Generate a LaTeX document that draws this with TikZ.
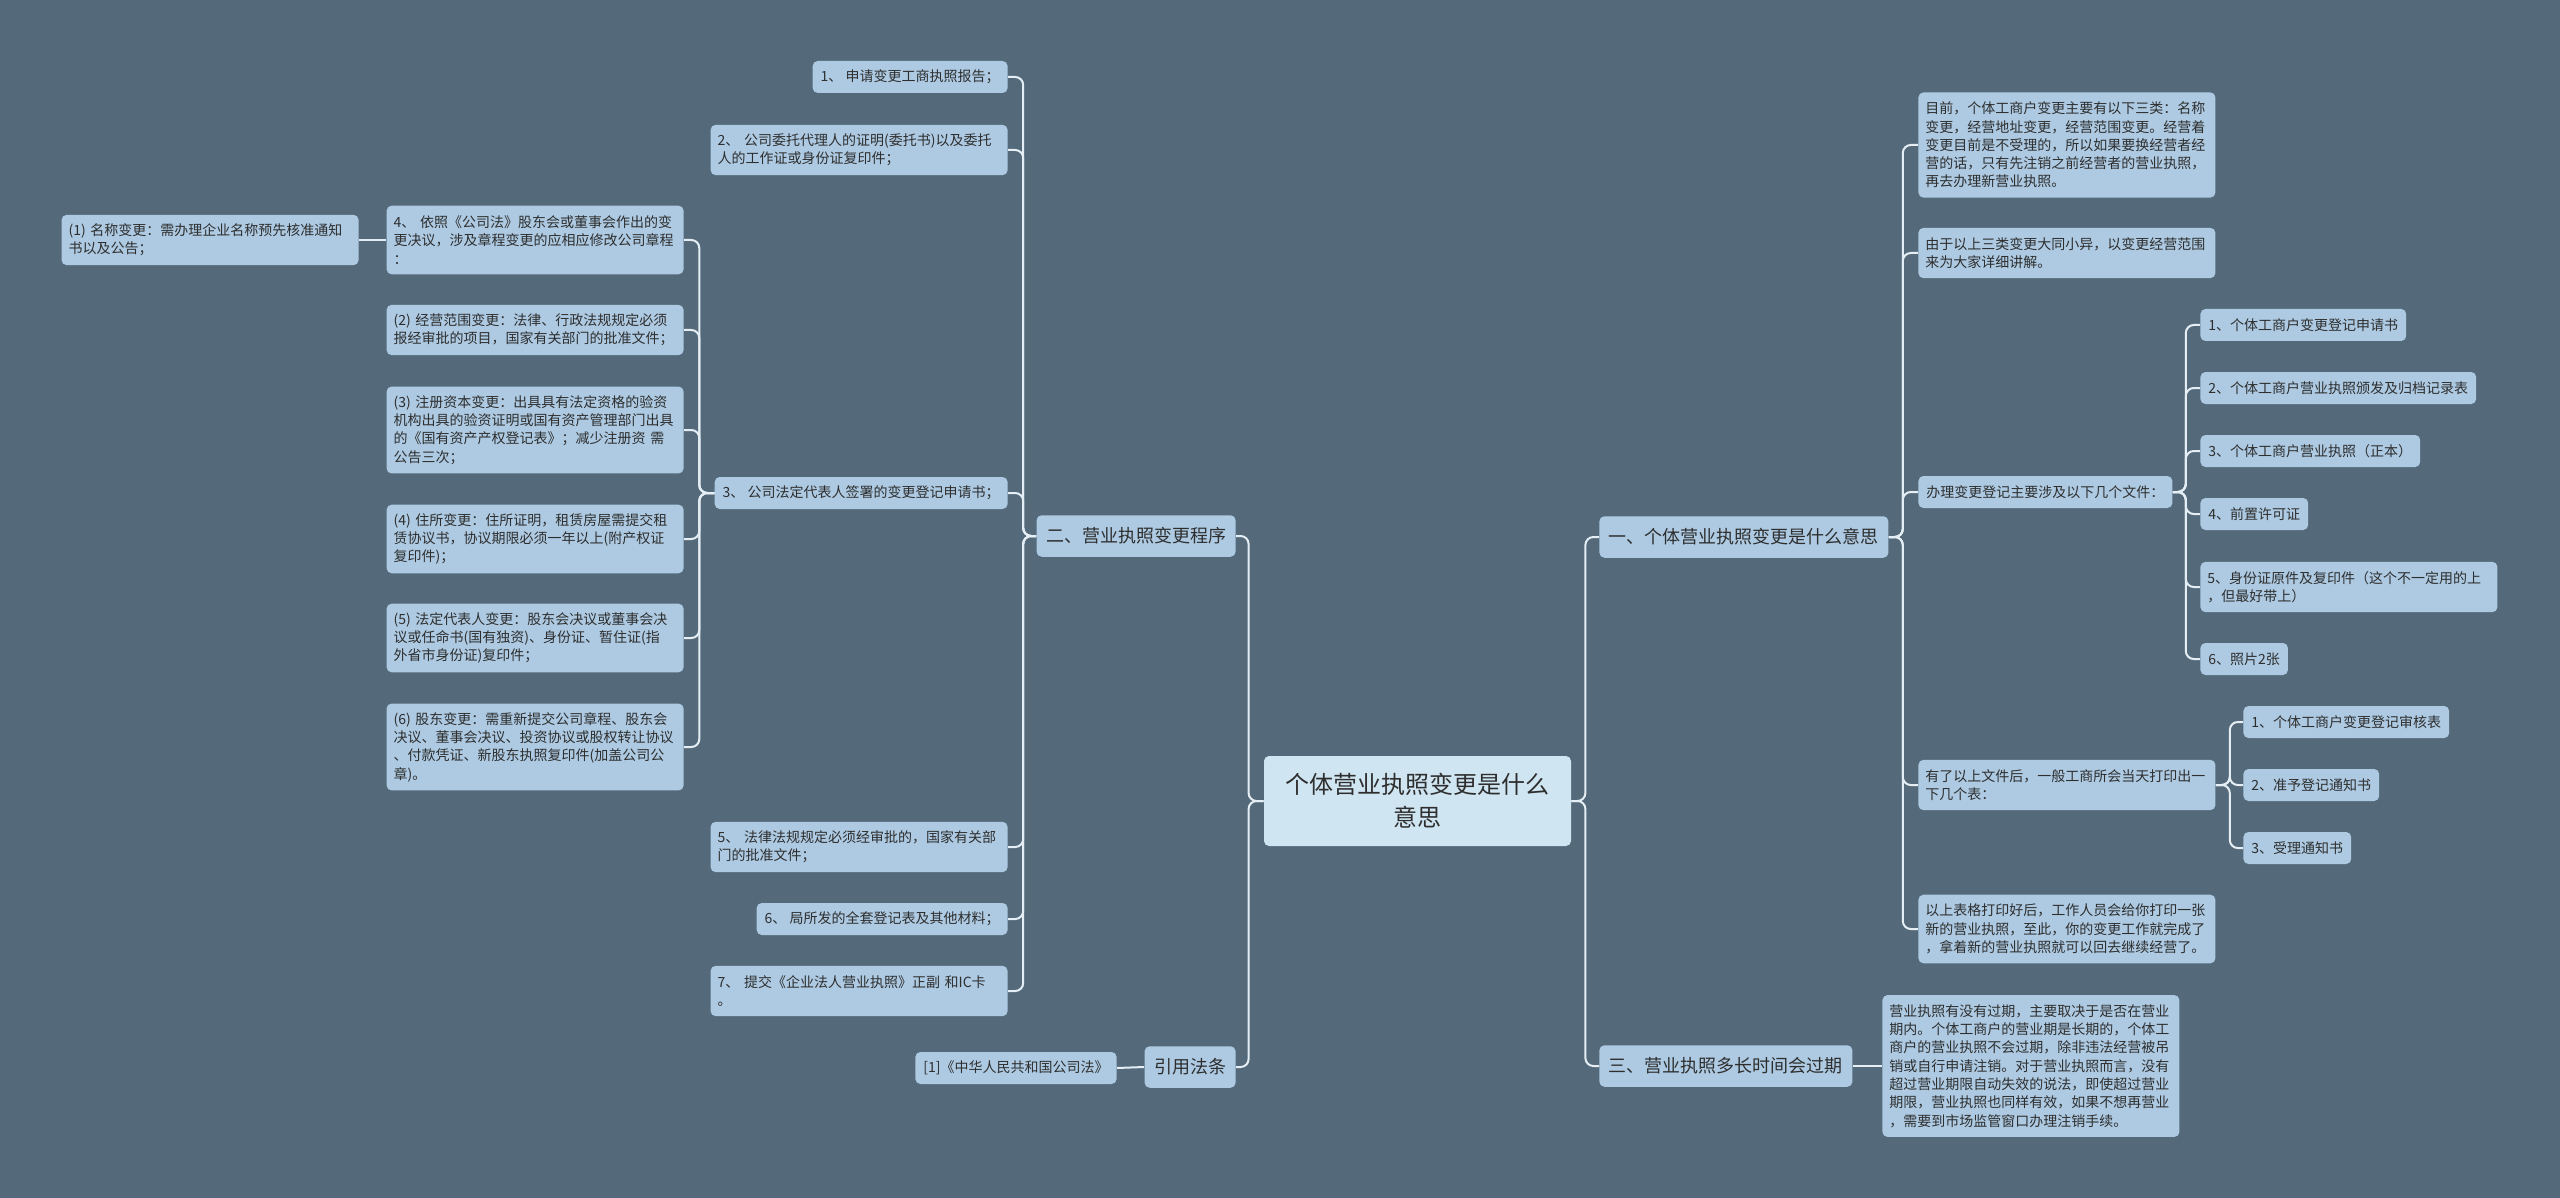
\documentclass[tikz,border=0pt]{standalone}
\usepackage{fontspec}
\setmainfont{Noto Sans CJK SC}
\definecolor{bgc}{HTML}{546A7A}
\definecolor{leafc}{HTML}{ADCAE2}
\definecolor{rootc}{HTML}{D0E5F2}
\definecolor{linec}{HTML}{E4EEF4}
\definecolor{txtc}{HTML}{2E2E2E}
\tikzset{
  base/.style={rectangle, rounded corners=2.5pt, fill=leafc, text=txtc, align=left, inner xsep=4pt, inner ysep=1pt},
  leaf/.style={base, font=\fontsize{7pt}{9.15pt}\selectfont},
  wide/.style={inner xsep=3.5pt, text width=141.5pt},
  lnA/.style={minimum height=16pt},
  lnB/.style={wide, minimum height=25.15pt},
  lnC/.style={wide, minimum height=34.3pt},
  lnD/.style={wide, minimum height=43.45pt},
  lnE/.style={wide, minimum height=52.6pt},
  lnG/.style={wide, minimum height=70.9pt},
  topic/.style={base, font=\fontsize{9pt}{11pt}\selectfont, minimum height=20.75pt, inner xsep=4.75pt},
  rootn/.style={base, fill=rootc, align=center, font=\fontsize{12pt}{16.5pt}\selectfont, minimum width=153.5pt, minimum height=45pt},
  conn/.style={draw=linec, line width=1pt, rounded corners=4pt},
}
\begin{document}
\begin{tikzpicture}[x=0.5pt,y=-0.5pt]
\path[use as bounding box, fill=bgc] (0,0) rectangle (2560,1198);

% root
\node[rootn] (root) at (1417.5,801) {个体营业执照变更是什么\\意思};

% left side
\node[topic, anchor=east] (n2) at (1236,536) {二、营业执照变更程序};
\node[topic, anchor=east] (cite) at (1236,1067) {引用法条};
\node[leaf, lnA, anchor=east] (law) at (1117,1068) {[1]《中华人民共和国公司法》};

\node[leaf, lnA, anchor=east] (a1) at (1008,77) {1、 申请变更工商执照报告；};
\node[leaf, lnB, anchor=east] (a2) at (1008,150) {2、 公司委托代理人的证明(委托书)以及委托\\人的工作证或身份证复印件；};
\node[leaf, lnA, anchor=east] (a3) at (1008,493) {3、 公司法定代表人签署的变更登记申请书；};
\node[leaf, lnB, anchor=east] (a5) at (1008,847) {5、 法律法规规定必须经审批的，国家有关部\\门的批准文件；};
\node[leaf, lnA, anchor=east] (a6) at (1008,919) {6、 局所发的全套登记表及其他材料；};
\node[leaf, lnB, anchor=east] (a7) at (1008,991) {7、 提交《企业法人营业执照》正副 和IC卡\\。};

\node[leaf, lnC, anchor=east] (b4) at (684,240) {4、 依照《公司法》股东会或董事会作出的变\\更决议，涉及章程变更的应相应修改公司章程\\：};
\node[leaf, lnB, anchor=east] (b1) at (359,240) {(1) 名称变更：需办理企业名称预先核准通知\\书以及公告；};
\node[leaf, lnB, anchor=east] (b2) at (684,330) {(2) 经营范围变更：法律、行政法规规定必须\\报经审批的项目，国家有关部门的批准文件；};
\node[leaf, lnD, anchor=east] (b3) at (684,430) {(3) 注册资本变更：出具具有法定资格的验资\\机构出具的验资证明或国有资产管理部门出具\\的《国有资产产权登记表》；减少注册资 需\\公告三次；};
\node[leaf, lnC, anchor=east] (bz) at (684,539) {(4) 住所变更：住所证明，租赁房屋需提交租\\赁协议书，协议期限必须一年以上(附产权证\\复印件)；};
\node[leaf, lnC, anchor=east] (b5) at (684,638) {(5) 法定代表人变更：股东会决议或董事会决\\议或任命书(国有独资)、身份证、暂住证(指\\外省市身份证)复印件；};
\node[leaf, lnD, anchor=east] (b6) at (684,747) {(6) 股东变更：需重新提交公司章程、股东会\\决议、董事会决议、投资协议或股权转让协议\\、付款凭证、新股东执照复印件(加盖公司公\\章)。};

% right side
\node[topic, anchor=west] (n1) at (1599,537) {一、个体营业执照变更是什么意思};
\node[topic, anchor=west] (n3) at (1599,1066) {三、营业执照多长时间会过期};
\node[leaf, lnG, anchor=west] (c3) at (1882,1066) {营业执照有没有过期，主要取决于是否在营业\\期内。个体工商户的营业期是长期的，个体工\\商户的营业执照不会过期，除非违法经营被吊\\销或自行申请注销。对于营业执照而言，没有\\超过营业期限自动失效的说法，即使超过营业\\期限，营业执照也同样有效，如果不想再营业\\，需要到市场监管窗口办理注销手续。};

\node[leaf, lnE, anchor=west] (r1) at (1918,145) {目前，个体工商户变更主要有以下三类：名称\\变更，经营地址变更，经营范围变更。经营着\\变更目前是不受理的，所以如果要换经营者经\\营的话，只有先注销之前经营者的营业执照，\\再去办理新营业执照。};
\node[leaf, lnB, anchor=west] (r2) at (1918,253) {由于以上三类变更大同小异，以变更经营范围\\来为大家详细讲解。};
\node[leaf, lnA, anchor=west] (r3) at (1918,492) {办理变更登记主要涉及以下几个文件：};
\node[leaf, lnB, anchor=west] (r4) at (1918,785) {有了以上文件后，一般工商所会当天打印出一\\下几个表：};
\node[leaf, lnC, anchor=west] (r5) at (1918,929) {以上表格打印好后，工作人员会给你打印一张\\新的营业执照，至此，你的变更工作就完成了\\，拿着新的营业执照就可以回去继续经营了。};

\node[leaf, lnA, anchor=west] (f1) at (2200,325) {1、个体工商户变更登记申请书};
\node[leaf, lnA, anchor=west] (f2) at (2200,388) {2、个体工商户营业执照颁发及归档记录表};
\node[leaf, lnA, anchor=west] (f3) at (2200,451) {3、个体工商户营业执照（正本）};
\node[leaf, lnA, anchor=west] (f4) at (2200,514) {4、前置许可证};
\node[leaf, lnB, anchor=west] (f5) at (2200,587) {5、身份证原件及复印件（这个不一定用的上\\，但最好带上）};
\node[leaf, lnA, anchor=west] (f6) at (2200,659) {6、照片2张};

\node[leaf, lnA, anchor=west] (t1) at (2243,722) {1、个体工商户变更登记审核表};
\node[leaf, lnA, anchor=west] (t2) at (2243,785) {2、准予登记通知书};
\node[leaf, lnA, anchor=west] (t3) at (2243,848) {3、受理通知书};

% connectors
\foreach \c in {n2,cite} \draw[conn] (root.west) -- ++(-7.5pt,0) |- (\c.east);
\foreach \c in {n1,n3} \draw[conn] (root.east) -- ++(7pt,0) |- (\c.west);
\foreach \c in {a1,a2,a3,a5,a6,a7} \draw[conn] (n2.west) -- ++(-6.5pt,0) |- (\c.east);
\foreach \c in {b4,b2,b3,bz,b5,b6} \draw[conn] (a3.west) -- ++(-7.5pt,0) |- (\c.east);
\draw[conn] (b4.west) -- (b1.east);
\draw[conn] (cite.west) -- (law.east);
\foreach \c in {r1,r2,r3,r4,r5} \draw[conn] (n1.east) -- ++(7pt,0) |- (\c.west);
\foreach \c in {f1,f2,f3,f4,f5,f6} \draw[conn] (r3.east) -- ++(6.5pt,0) |- (\c.west);
\foreach \c in {t1,t2,t3} \draw[conn] (r4.east) -- ++(7pt,0) |- (\c.west);
\draw[conn] (n3.east) -- (c3.west);
\end{tikzpicture}
\end{document}
